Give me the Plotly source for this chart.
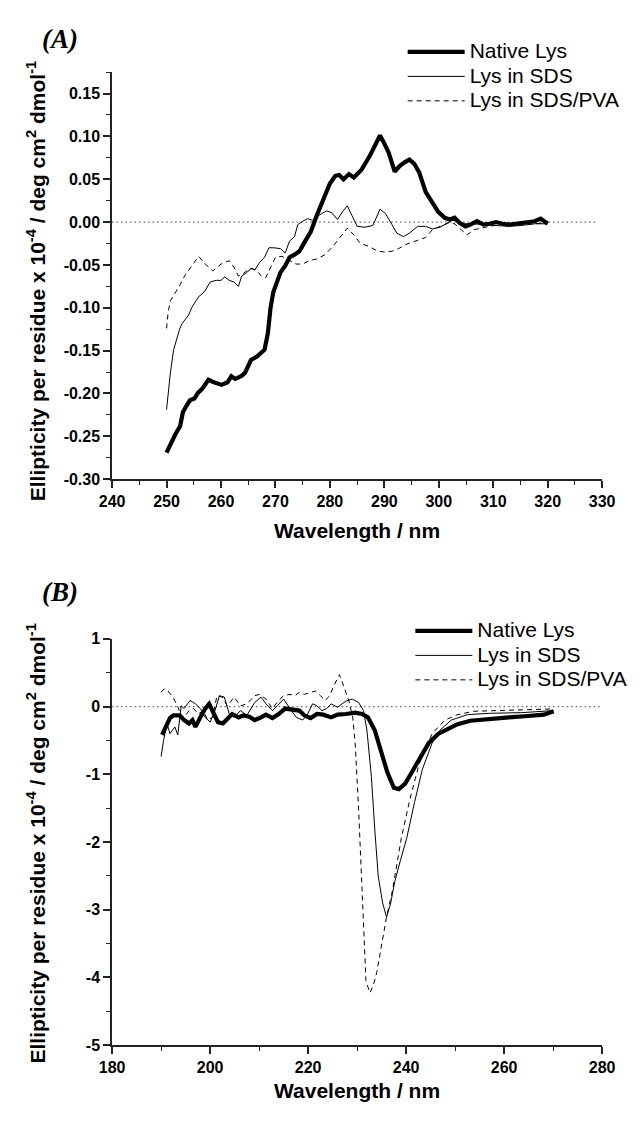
import plotly.graph_objects as go

# ---------------- Panel A data (near-UV CD) ----------------
a_native_x = [250.0, 250.8, 251.6, 252.5, 253.0, 253.6, 254.3, 255.1, 255.8, 256.5, 257.1, 257.7, 258.7, 259.5,
              260.1, 261.2, 261.9, 262.6, 263.7, 264.4, 265.5, 266.6, 267.3, 268.0, 268.6, 269.1, 269.6, 270.3,
              270.9, 271.8, 272.6, 273.5, 274.4, 275.3, 276.5, 277.6, 278.8, 280.0, 281.0, 281.7, 282.5, 283.5,
              284.4, 285.8, 287.3, 288.5, 289.2, 289.9, 290.8, 291.9, 292.9, 293.8, 294.6, 295.5, 296.4, 297.6,
              298.8, 299.9, 301.1, 302.0, 302.9, 303.8, 304.9, 305.8, 307.0, 308.2, 309.3, 310.5, 311.7, 312.9,
              314.1, 315.2, 316.4, 317.6, 318.7, 319.3, 320.0]
a_native_y = [-0.269, -0.258, -0.248, -0.238, -0.222, -0.215, -0.208, -0.206, -0.199, -0.195, -0.190, -0.184,
              -0.187, -0.189, -0.190, -0.187, -0.180, -0.183, -0.180, -0.176, -0.161, -0.157, -0.153, -0.149,
              -0.130, -0.100, -0.082, -0.068, -0.059, -0.051, -0.041, -0.038, -0.034, -0.024, -0.011, 0.008,
              0.028, 0.045, 0.054, 0.055, 0.050, 0.056, 0.052, 0.061, 0.077, 0.091, 0.101, 0.093, 0.081, 0.059,
              0.066, 0.070, 0.073, 0.068, 0.058, 0.035, 0.024, 0.012, 0.005, 0.003, 0.005, -0.001, -0.005,
              -0.003, 0.001, -0.003, -0.002, 0.000, -0.002, -0.003, -0.002, -0.001, 0.000, 0.001, 0.004, 0.001,
              -0.002]

a_sds_x = [250.0, 250.4, 250.7, 251.3, 251.8, 252.4, 252.9, 254.0, 254.7, 255.4, 255.9, 256.5, 257.1, 258.0,
           259.1, 260.0, 260.7, 261.5, 262.4, 263.2, 263.8, 264.7, 265.6, 266.2, 267.1, 268.0, 268.8, 269.7,
           270.9, 271.8, 272.6, 273.5, 274.1, 275.0, 275.9, 276.8, 277.6, 278.5, 279.4, 280.3, 281.4, 282.3,
           283.2, 284.1, 285.0, 286.4, 287.9, 289.2, 290.2, 291.4, 292.3, 293.5, 294.6, 296.1, 297.6, 298.8,
           300.2, 301.4, 302.9, 304.6, 306.4, 308.2, 310.5, 312.9, 315.2, 317.6, 319.9]
a_sds_y = [-0.219, -0.195, -0.176, -0.149, -0.139, -0.125, -0.118, -0.109, -0.099, -0.092, -0.087, -0.084,
           -0.080, -0.070, -0.068, -0.068, -0.064, -0.068, -0.070, -0.075, -0.063, -0.059, -0.054, -0.056,
           -0.047, -0.041, -0.030, -0.030, -0.031, -0.036, -0.022, -0.017, -0.003, 0.001, 0.004, 0.002, 0.006,
           0.010, 0.013, 0.011, 0.003, 0.012, 0.019, 0.006, -0.005, -0.006, -0.004, 0.015, 0.010, -0.003,
           -0.013, -0.017, -0.013, -0.005, -0.005, -0.008, -0.006, -0.002, 0.004, -0.002, -0.002, -0.003,
           -0.004, -0.005, -0.004, -0.002, -0.002]

a_pva_x = [250.0, 250.3, 250.7, 251.5, 252.5, 253.3, 254.4, 255.4, 255.9, 257.1, 258.5, 260.0, 261.5, 262.4,
           263.2, 264.1, 265.3, 266.5, 267.4, 268.2, 269.1, 270.0, 271.2, 272.6, 273.8, 275.0, 276.2, 277.6,
           279.1, 280.6, 282.0, 283.2, 284.4, 285.6, 287.0, 288.8, 290.2, 291.4, 292.6, 294.0, 295.8, 297.6,
           298.8, 300.2, 301.7, 302.9, 304.1, 305.2, 306.4, 307.6, 309.3, 311.1, 312.9, 315.2, 317.6, 319.9]
a_pva_y = [-0.124, -0.105, -0.092, -0.084, -0.073, -0.063, -0.053, -0.044, -0.040, -0.049, -0.057, -0.049,
           -0.045, -0.053, -0.063, -0.060, -0.054, -0.056, -0.063, -0.065, -0.053, -0.041, -0.040, -0.045,
           -0.049, -0.049, -0.045, -0.043, -0.038, -0.028, -0.017, -0.007, -0.015, -0.025, -0.028, -0.034,
           -0.035, -0.034, -0.031, -0.026, -0.022, -0.018, -0.009, -0.005, -0.001, -0.002, -0.009, -0.015,
           -0.009, -0.007, -0.005, -0.003, -0.002, -0.003, -0.002, -0.001]

# ---------------- Panel B data (far-UV CD) ----------------
b_native_x = [190.2, 190.7, 191.2, 191.8, 192.5, 193.8, 194.7, 195.7, 196.4, 197.0, 198.0, 199.0, 199.8, 200.6,
              201.6, 202.6, 203.5, 204.5, 205.8, 206.8, 208.0, 209.1, 210.4, 211.4, 212.7, 214.0, 215.3, 216.6,
              218.2, 219.2, 220.5, 221.8, 223.1, 224.7, 226.0, 227.7, 229.6, 231.0, 232.2, 233.6, 234.9, 236.2,
              237.5, 238.5, 239.8, 241.1, 242.7, 244.6, 246.6, 248.6, 250.5, 253.1, 257.0, 261.0, 264.9, 268.1,
              270.1]
b_native_y = [-0.42, -0.33, -0.25, -0.17, -0.13, -0.13, -0.20, -0.25, -0.20, -0.30, -0.16, -0.03, 0.04, -0.08,
              -0.23, -0.25, -0.18, -0.11, -0.16, -0.13, -0.15, -0.20, -0.16, -0.12, -0.17, -0.11, -0.03, -0.04,
              -0.06, -0.13, -0.17, -0.11, -0.12, -0.16, -0.12, -0.11, -0.09, -0.11, -0.16, -0.35, -0.64, -0.98,
              -1.20, -1.22, -1.14, -0.98, -0.76, -0.54, -0.40, -0.33, -0.26, -0.21, -0.18, -0.16, -0.14, -0.12,
              -0.07]

b_sds_x = [190.0, 190.5, 191.2, 191.8, 192.8, 193.4, 194.1, 194.7, 195.9, 197.0, 198.0, 199.0, 200.0, 201.0,
           201.9, 202.9, 203.9, 204.9, 206.2, 207.5, 209.1, 210.4, 211.4, 212.7, 213.7, 215.0, 216.3, 217.6,
           218.9, 219.9, 220.9, 221.8, 222.8, 223.8, 224.7, 226.0, 227.7, 229.0, 230.3, 231.3, 232.0, 232.9,
           233.6, 234.3, 235.2, 236.0, 236.8, 237.7, 238.8, 240.1, 241.7, 243.3, 245.3, 246.9, 249.2, 252.5,
           257.0, 263.6, 270.1]
b_sds_y = [-0.74, -0.50, -0.25, -0.40, -0.30, -0.42, 0.01, -0.03, 0.09, 0.04, -0.03, -0.16, -0.23, -0.06, 0.16,
           0.14, -0.11, -0.16, -0.06, -0.13, 0.06, 0.14, 0.04, -0.06, 0.01, 0.11, -0.03, -0.16, -0.20, -0.11,
           0.04, 0.01, -0.06, -0.03, 0.04, -0.01, 0.08, 0.11, 0.06, -0.06, -0.35, -1.03, -1.81, -2.50, -2.90,
           -3.11, -2.92, -2.58, -2.28, -1.95, -1.42, -0.93, -0.54, -0.35, -0.20, -0.12, -0.10, -0.09, -0.06]

b_pva_x = [190.0, 190.6, 191.4, 192.4, 193.4, 194.3, 195.1, 195.7, 196.6, 197.6, 198.6, 199.5, 200.5, 201.4,
           202.5, 203.5, 204.9, 206.2, 207.5, 209.1, 210.1, 211.4, 212.7, 214.0, 215.0, 216.3, 217.3, 218.2,
           219.2, 220.5, 221.5, 222.5, 223.5, 224.4, 225.4, 226.4, 227.3, 228.3, 229.1, 229.6, 230.3, 230.8,
           231.3, 231.8, 232.6, 233.3, 234.0, 235.2, 236.0, 237.2, 238.0, 239.0, 240.0, 241.0, 242.7, 245.3,
           247.9, 250.5, 253.8, 260.3, 266.8, 270.1]
b_pva_y = [0.21, 0.26, 0.23, 0.14, 0.00, -0.17, -0.12, -0.06, -0.03, -0.11, -0.06, -0.20, -0.16, 0.16, 0.14,
           0.01, 0.14, 0.01, 0.04, 0.16, 0.18, 0.11, -0.03, 0.09, 0.16, 0.18, 0.16, 0.21, 0.18, 0.21, 0.23, 0.16,
           0.09, 0.16, 0.33, 0.47, 0.28, 0.09, -0.16, -0.54, -1.51, -2.39, -3.40, -4.05, -4.23, -4.12, -3.93,
           -3.44, -3.11, -2.72, -2.35, -1.95, -1.62, -1.30, -0.84, -0.40, -0.20, -0.12, -0.07, -0.06, -0.05,
           -0.035]

# zero reference lines
a_zero_x = [240, 329]
b_zero_x = [180, 279.5]
zero_y = [0, 0]

# tick labels
a_xticks = [240, 250, 260, 270, 280, 290, 300, 310, 320, 330]
a_yticks = [0.15, 0.10, 0.05, 0.00, -0.05, -0.10, -0.15, -0.20, -0.25, -0.30]
a_yticktext = ["0.15", "0.10", "0.05", "0.00", "-0.05", "-0.10", "-0.15", "-0.20", "-0.25", "-0.30"]
b_xticks = [180, 200, 220, 240, 260, 280]
b_yticks = [1, 0, -1, -2, -3, -4, -5]
b_yticktext = ["1", "0", "-1", "-2", "-3", "-4", "-5"]

series_names = ["Native Lys", "Lys in SDS", "Lys in SDS/PVA"]

# page is 642x1121 but the html body has an 8px margin -> figure is offset by 8px
OFF = 8
W, H = 642 - OFF, 1121 - OFF


def px(p):
    return (p - OFF) / W


def py(p):
    return 1 - (p - OFF) / H


FONT = "Liberation Sans, Arial, sans-serif"
AX = "#222222"

fig = go.Figure()


def add_panel(xs, ys, xa, ya, legend, zx):
    styles = [dict(color="black", width=4.2),
              dict(color="black", width=1),
              dict(color="black", width=1, dash="5px,4px")]
    fig.add_trace(go.Scatter(x=zx, y=zero_y, mode="lines", xaxis=xa, yaxis=ya, showlegend=False,
                             hoverinfo="skip", line=dict(color="#666666", width=1.3, dash="1.5px,3px")))
    for (x, y), name, st in zip(zip(xs, ys), series_names, styles):
        fig.add_trace(go.Scatter(x=x, y=y, mode="lines", xaxis=xa, yaxis=ya, legend=legend, line=st,
                                 name='<span style="font-size:21px">' + name + '</span>'))


add_panel([a_native_x, a_sds_x, a_pva_x], [a_native_y, a_sds_y, a_pva_y], "x", "y", "legend", a_zero_x)
add_panel([b_native_x, b_sds_x, b_pva_x], [b_native_y, b_sds_y, b_pva_y], "x2", "y2", "legend2", b_zero_x)

xdom = [px(103), px(614)]
ydomA = [py(478.3), py(65)]
ydomB = [py(1053), py(640.5)]

tickfont = dict(family=FONT, size=16, color="black", weight="bold")
common = dict(showline=True, linecolor=AX, linewidth=1.6, ticks="outside", ticklen=7, tickwidth=1.6,
              tickcolor=AX, showgrid=False, zeroline=False, tickfont=tickfont, mirror=False)
minor_style = dict(ticks="outside", ticklen=4, tickwidth=1.4, tickcolor=AX)
legend_font = dict(family=FONT, size=16.5, color="black")

fig.update_layout(
    width=W, height=H, margin=dict(l=0, r=0, t=0, b=0),
    paper_bgcolor="white", plot_bgcolor="white",
    xaxis=dict(domain=xdom, anchor="y", range=[240, 330], tickvals=a_xticks,
               ticktext=[str(v) for v in a_xticks],
               minor=dict(dtick=5, tick0=240, **minor_style), **common),
    yaxis=dict(domain=ydomA, anchor="x", range=[-0.30, 0.175], tickvals=a_yticks, ticktext=a_yticktext,
               minor=dict(dtick=0.025, tick0=0, **minor_style), **common),
    xaxis2=dict(domain=xdom, anchor="y2", range=[180, 280], tickvals=b_xticks,
                ticktext=[str(v) for v in b_xticks],
                minor=dict(dtick=10, tick0=180, **minor_style), **common),
    yaxis2=dict(domain=ydomB, anchor="x2", range=[-5, 1], tickvals=b_yticks, ticktext=b_yticktext,
                minor=dict(dtick=0.5, tick0=0, **minor_style), **common),
    legend=dict(x=px(406), y=py(27), xanchor="left", yanchor="top", bgcolor="rgba(0,0,0,0)",
                font=legend_font, itemwidth=57, tracegroupgap=0, traceorder="normal"),
    legend2=dict(x=px(414), y=py(615), xanchor="left", yanchor="top", bgcolor="rgba(0,0,0,0)",
                 font=legend_font, itemwidth=57, tracegroupgap=0, traceorder="normal"),
)

ytitle = "Ellipticity per residue x 10<sup>-4</sup> / deg cm<sup>2</sup> dmol<sup>-1</sup>"
title_font = dict(family=FONT, size=21, color="black", weight="bold")
serif = dict(family="Liberation Serif, Times New Roman, serif", size=27, color="black")
ann = [
    dict(text="<b><i>(A)</i></b>", x=px(28), y=py(31), xanchor="left", yanchor="middle", font=serif),
    dict(text="<b><i>(B)</i></b>", x=px(28), y=py(593), xanchor="left", yanchor="middle", font=serif),
    dict(text="Wavelength / nm", x=px(358.5), y=py(530), xanchor="center", yanchor="middle", font=title_font),
    dict(text="Wavelength / nm", x=px(358.5), y=py(1099), xanchor="center", yanchor="middle", font=title_font),
    dict(text=ytitle, x=px(24), y=py(277), xanchor="center", yanchor="middle", textangle=-90, font=title_font),
    dict(text=ytitle, x=px(24), y=py(848), xanchor="center", yanchor="middle", textangle=-90, font=title_font),
]
for a in ann:
    a.update(xref="paper", yref="paper", showarrow=False)
fig.update_layout(annotations=ann)

fig.write_html("out.html")
